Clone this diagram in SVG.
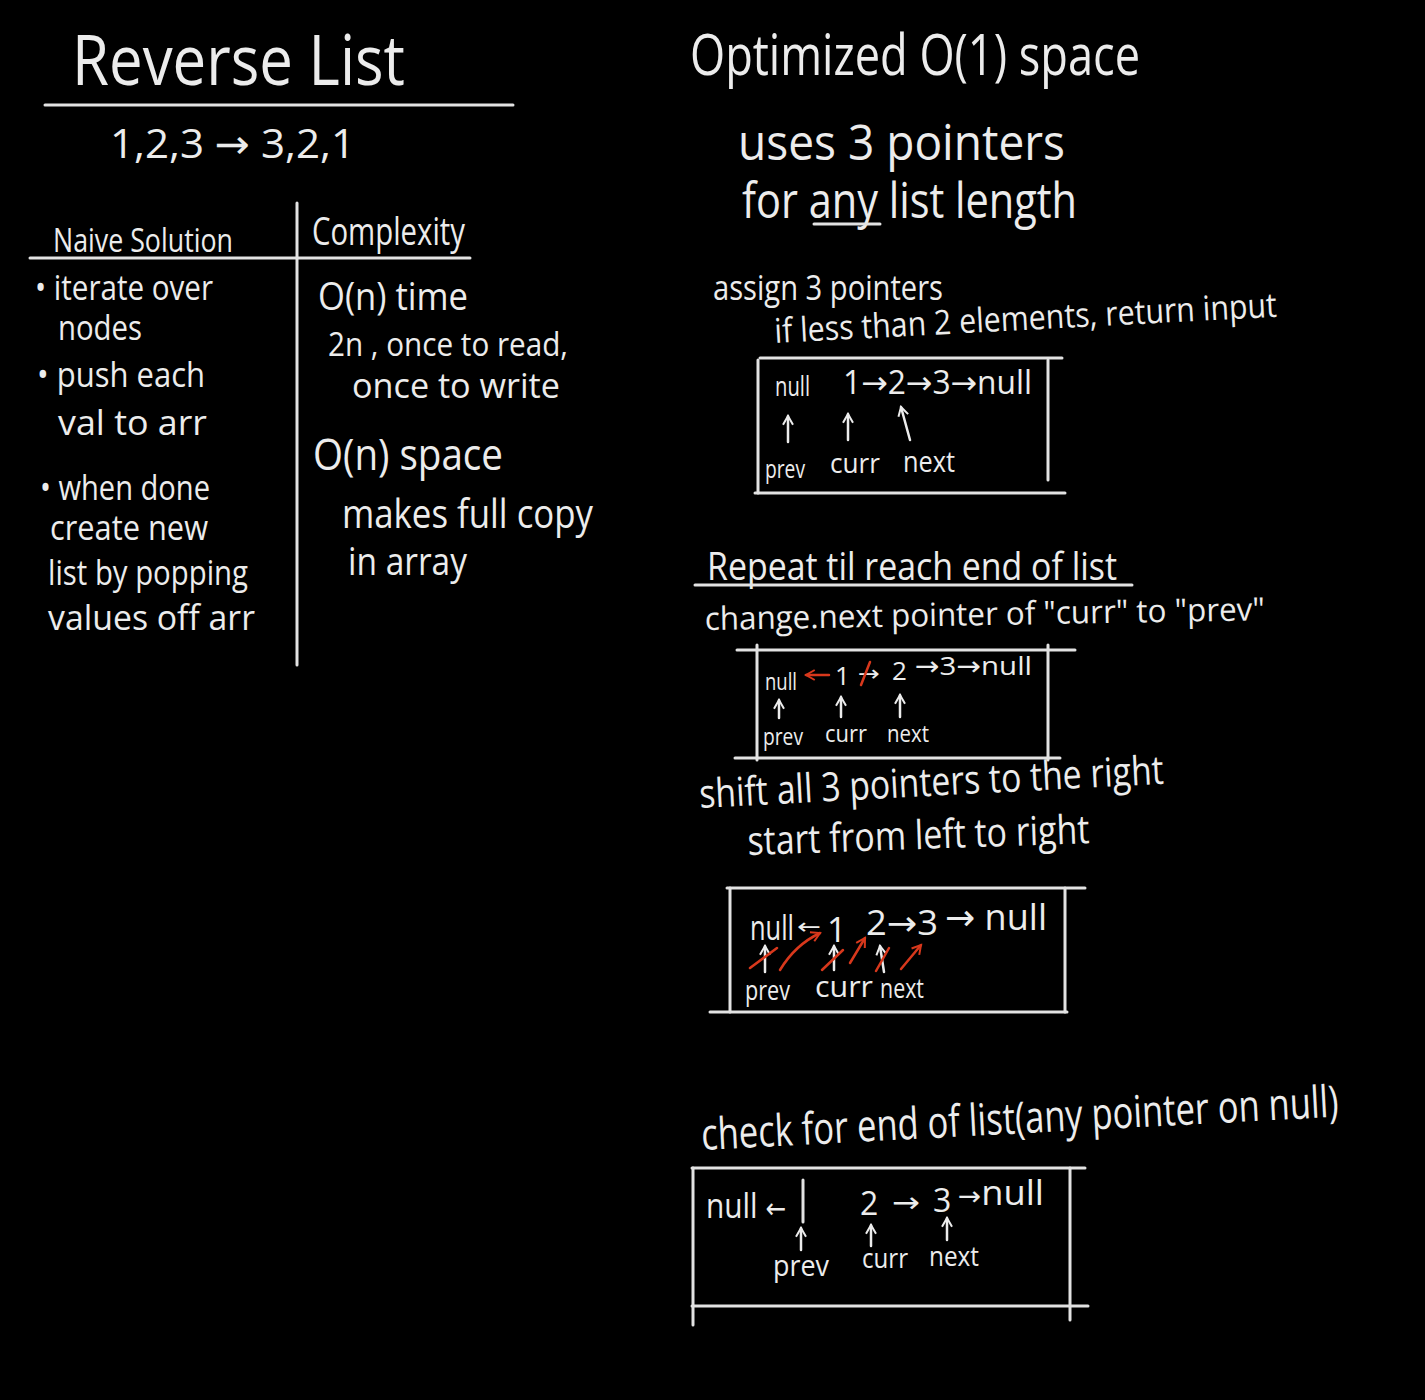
<svg xmlns="http://www.w3.org/2000/svg" width="1425" height="1400" viewBox="0 0 1425 1400">
<style>
.t{font-family:"Open Sans","Liberation Sans",sans-serif;fill:#ececec}
.a{font-family:"DejaVu Sans",sans-serif}
.ln{stroke:#e2e2e2;stroke-width:3;fill:none;stroke-linecap:round}
.ar{stroke:#ececec;stroke-width:2.5;fill:none;stroke-linecap:round}
.rd{stroke:#d8381c;stroke-width:2.5;fill:none;stroke-linecap:round}
</style>
<defs>
<marker id="ah" viewBox="0 0 10 10" refX="8" refY="5" markerWidth="5" markerHeight="5" orient="auto"><path d="M1,1 L8,5 L1,9" fill="none" stroke="#ececec" stroke-width="1.6"/></marker>
<marker id="rh" viewBox="0 0 10 10" refX="8" refY="5" markerWidth="5" markerHeight="5" orient="auto"><path d="M1,1 L8,5 L1,9" fill="none" stroke="#d8381c" stroke-width="1.6"/></marker>
</defs>
<rect width="1425" height="1400" fill="#000"/>

<g id="left-title">
<text class="t" x="72" y="85" font-size="70" textLength="333" lengthAdjust="spacingAndGlyphs">Reverse List</text>
<line class="ln" x1="45" y1="105" x2="513" y2="105"/>
<text class="t" x="110" y="158" font-size="40" textLength="245" lengthAdjust="spacingAndGlyphs">1,2,3 <tspan class="a">→</tspan> 3,2,1</text>
</g>

<g id="table">
<line class="ln" x1="30" y1="258" x2="470" y2="258"/>
<line class="ln" x1="297" y1="203" x2="297" y2="665"/>
<text class="t" x="53" y="252" font-size="32" textLength="180" lengthAdjust="spacingAndGlyphs">Naive Solution</text>
<text class="t" x="312" y="245" font-size="38" textLength="153" lengthAdjust="spacingAndGlyphs">Complexity</text>
</g>

<g id="naive" class="t" font-size="34">
<text x="35" y="300" textLength="178" lengthAdjust="spacingAndGlyphs">• iterate over</text>
<text x="58" y="340" textLength="84" lengthAdjust="spacingAndGlyphs">nodes</text>
<text x="37" y="387" textLength="168" lengthAdjust="spacingAndGlyphs">• push each</text>
<text x="58" y="435" textLength="149" lengthAdjust="spacingAndGlyphs">val to arr</text>
<text x="40" y="500" textLength="170" lengthAdjust="spacingAndGlyphs">• when done</text>
<text x="50" y="540" textLength="158" lengthAdjust="spacingAndGlyphs">create new</text>
<text x="48" y="585" textLength="200" lengthAdjust="spacingAndGlyphs">list by popping</text>
<text x="48" y="630" textLength="207" lengthAdjust="spacingAndGlyphs">values off arr</text>
</g>

<g id="complexity" class="t">
<text x="318" y="310" font-size="38" textLength="150" lengthAdjust="spacingAndGlyphs">O(n) time</text>
<text x="328" y="356" font-size="32" textLength="240" lengthAdjust="spacingAndGlyphs">2n , once to read,</text>
<text x="352" y="398" font-size="34" textLength="208" lengthAdjust="spacingAndGlyphs">once to write</text>
<text x="313" y="470" font-size="44" textLength="190" lengthAdjust="spacingAndGlyphs">O(n) space</text>
<text x="342" y="528" font-size="40" textLength="251" lengthAdjust="spacingAndGlyphs">makes full copy</text>
<text x="348" y="575" font-size="38" textLength="119" lengthAdjust="spacingAndGlyphs">in array</text>
</g>

<g id="optimized-title" class="t">
<text x="690" y="75" font-size="56" textLength="450" lengthAdjust="spacingAndGlyphs">Optimized O(1) space</text>
<text x="738" y="160" font-size="50" textLength="327" lengthAdjust="spacingAndGlyphs">uses 3 pointers</text>
<text x="742" y="218" font-size="50" textLength="335" lengthAdjust="spacingAndGlyphs">for any list length</text>
<line class="ln" x1="814" y1="224" x2="880" y2="224" stroke-width="2.5"/>
</g>

<g id="step-assign">
<text class="t" x="713" y="300" font-size="34" textLength="230" lengthAdjust="spacingAndGlyphs">assign 3 pointers</text>
<text class="t" x="775" y="343" font-size="34" textLength="503" lengthAdjust="spacingAndGlyphs" transform="rotate(-3 775 343)">if less than 2 elements, return input</text>
</g>

<g id="box1">
<line class="ln" x1="760" y1="358" x2="1062" y2="358" stroke-width="2.5"/>
<line class="ln" x1="755" y1="493" x2="1065" y2="493" stroke-width="2.5"/>
<line class="ln" x1="758" y1="360" x2="758" y2="493" stroke-width="2.5"/>
<line class="ln" x1="1048" y1="360" x2="1048" y2="480" stroke-width="2.5"/>
<text class="t" x="775" y="396" font-size="28" textLength="35" lengthAdjust="spacingAndGlyphs">null</text>
<text class="t" x="843" y="394" font-size="32" textLength="189" lengthAdjust="spacingAndGlyphs">1<tspan class="a">→</tspan>2<tspan class="a">→</tspan>3<tspan class="a">→</tspan>null</text>
<text class="t" x="765" y="478" font-size="26" textLength="40" lengthAdjust="spacingAndGlyphs">prev</text>
<text class="t" x="830" y="473" font-size="28" textLength="50" lengthAdjust="spacingAndGlyphs">curr</text>
<text class="t" x="903" y="472" font-size="30" textLength="52" lengthAdjust="spacingAndGlyphs">next</text>
</g>

<g id="step-repeat">
<text class="t" x="707" y="580" font-size="38" textLength="410" lengthAdjust="spacingAndGlyphs">Repeat til reach end of list</text>
<line class="ln" x1="695" y1="585" x2="1132" y2="585" stroke-width="2.5"/>
<text class="t" x="705" y="630" font-size="32" textLength="560" lengthAdjust="spacingAndGlyphs" transform="rotate(-1 705 630)">change.next pointer of "curr" to "prev"</text>
</g>

<g id="box2">
<line class="ln" x1="737" y1="650" x2="1075" y2="650" stroke-width="2.5"/>
<line class="ln" x1="735" y1="758" x2="1060" y2="758" stroke-width="2.5"/>
<line class="ln" x1="757" y1="645" x2="757" y2="760" stroke-width="2.5"/>
<line class="ln" x1="1048" y1="645" x2="1048" y2="760" stroke-width="2.5"/>
<text class="t" x="765" y="690" font-size="24" textLength="32" lengthAdjust="spacingAndGlyphs">null</text>
<text class="t" x="835" y="685" font-size="26">1</text>
<text class="t a" x="858" y="681" font-size="22" textLength="22" lengthAdjust="spacingAndGlyphs">→</text>
<text class="t" x="892" y="680" font-size="26">2</text>
<text class="t" x="915" y="675" font-size="26" textLength="117" lengthAdjust="spacingAndGlyphs"><tspan class="a">→</tspan>3<tspan class="a">→</tspan>null</text>
<text class="t" x="763" y="745" font-size="24" textLength="40" lengthAdjust="spacingAndGlyphs">prev</text>
<text class="t" x="825" y="742" font-size="24" textLength="42" lengthAdjust="spacingAndGlyphs">curr</text>
<text class="t" x="887" y="742" font-size="24" textLength="42" lengthAdjust="spacingAndGlyphs">next</text>
</g>

<g id="step-shift">
<text class="t" x="700" y="808" font-size="40" textLength="465" lengthAdjust="spacingAndGlyphs" transform="rotate(-3 700 808)">shift all 3 pointers to the right</text>
<text class="t" x="748" y="855" font-size="40" textLength="342" lengthAdjust="spacingAndGlyphs" transform="rotate(-2 748 855)">start from left to right</text>
</g>

<g id="box3">
<line class="ln" x1="727" y1="888" x2="1085" y2="888" stroke-width="2.5"/>
<line class="ln" x1="710" y1="1012" x2="1067" y2="1012" stroke-width="2.5"/>
<line class="ln" x1="730" y1="888" x2="730" y2="1012" stroke-width="2.5"/>
<line class="ln" x1="1065" y1="888" x2="1065" y2="1012" stroke-width="2.5"/>
<text class="t" x="750" y="940" font-size="34" textLength="44" lengthAdjust="spacingAndGlyphs">null</text>
<text class="t a" x="797" y="934" font-size="22" textLength="24" lengthAdjust="spacingAndGlyphs">←</text>
<text class="t" x="827" y="942" font-size="34">1</text>
<text class="t" x="866" y="935" font-size="34" textLength="72" lengthAdjust="spacingAndGlyphs">2<tspan class="a">→</tspan>3</text>
<text class="t" x="945" y="930" font-size="36" textLength="102" lengthAdjust="spacingAndGlyphs"><tspan class="a">→</tspan> null</text>
<text class="t" x="745" y="1000" font-size="28" textLength="45" lengthAdjust="spacingAndGlyphs">prev</text>
<text class="t" x="815" y="997" font-size="30" textLength="58" lengthAdjust="spacingAndGlyphs">curr</text>
<text class="t" x="880" y="998" font-size="28" textLength="44" lengthAdjust="spacingAndGlyphs">next</text>
</g>

<g id="step-check">
<text class="t" x="702" y="1150" font-size="44" textLength="638" lengthAdjust="spacingAndGlyphs" transform="rotate(-3 702 1150)">check for end of list(any pointer on null)</text>
</g>

<g id="box4">
<line class="ln" x1="692" y1="1168" x2="1085" y2="1168" stroke-width="2.5"/>
<line class="ln" x1="692" y1="1306" x2="1088" y2="1306" stroke-width="2.5"/>
<line class="ln" x1="693" y1="1168" x2="693" y2="1325" stroke-width="2.5"/>
<line class="ln" x1="1070" y1="1168" x2="1070" y2="1320" stroke-width="2.5"/>
<text class="t" x="706" y="1218" font-size="34" textLength="80" lengthAdjust="spacingAndGlyphs">null <tspan class="a" font-size="28">←</tspan></text>
<line class="ln" x1="803" y1="1180" x2="803" y2="1222"/>
<text class="t" x="860" y="1215" font-size="32">2</text>
<text class="t a" x="892" y="1212" font-size="28" textLength="28" lengthAdjust="spacingAndGlyphs">→</text>
<text class="t" x="933" y="1212" font-size="32">3</text>
<text class="t" x="958" y="1205" font-size="34" textLength="86" lengthAdjust="spacingAndGlyphs"><tspan class="a" font-size="26">→</tspan>null</text>
<text class="t" x="773" y="1276" font-size="30" textLength="56" lengthAdjust="spacingAndGlyphs">prev</text>
<text class="t" x="862" y="1268" font-size="28" textLength="46" lengthAdjust="spacingAndGlyphs">curr</text>
<text class="t" x="929" y="1266" font-size="28" textLength="50" lengthAdjust="spacingAndGlyphs">next</text>
</g>

<g id="connectors">
<line class="ar" x1="788" y1="442" x2="788" y2="416" marker-end="url(#ah)"/>
<line class="ar" x1="848" y1="440" x2="848" y2="414" marker-end="url(#ah)"/>
<line class="ar" x1="910" y1="440" x2="901" y2="407" marker-end="url(#ah)"/>
<line class="rd" x1="829" y1="675" x2="806" y2="675" marker-end="url(#rh)"/>
<line class="rd" x1="861" y1="685" x2="870" y2="662"/>
<line class="ar" x1="779" y1="718" x2="779" y2="700" marker-end="url(#ah)"/>
<line class="ar" x1="841" y1="717" x2="841" y2="697" marker-end="url(#ah)"/>
<line class="ar" x1="900" y1="717" x2="900" y2="695" marker-end="url(#ah)"/>
<line class="ar" x1="765" y1="972" x2="765" y2="946" marker-end="url(#ah)"/>
<line class="ar" x1="834" y1="970" x2="834" y2="946" marker-end="url(#ah)"/>
<line class="ar" x1="884" y1="972" x2="880" y2="946" marker-end="url(#ah)"/>
<line class="rd" x1="750" y1="968" x2="777" y2="948"/>
<path class="rd" d="M780,970 Q795,945 820,933" marker-end="url(#rh)"/>
<line class="rd" x1="822" y1="970" x2="843" y2="950"/>
<line class="rd" x1="850" y1="963" x2="865" y2="938" marker-end="url(#rh)"/>
<line class="rd" x1="876" y1="971" x2="889" y2="948"/>
<line class="rd" x1="901" y1="969" x2="921" y2="945" marker-end="url(#rh)"/>
<line class="ar" x1="801" y1="1250" x2="801" y2="1228" marker-end="url(#ah)"/>
<line class="ar" x1="871" y1="1246" x2="871" y2="1225" marker-end="url(#ah)"/>
<line class="ar" x1="947" y1="1240" x2="947" y2="1218" marker-end="url(#ah)"/>
</g>
</svg>
